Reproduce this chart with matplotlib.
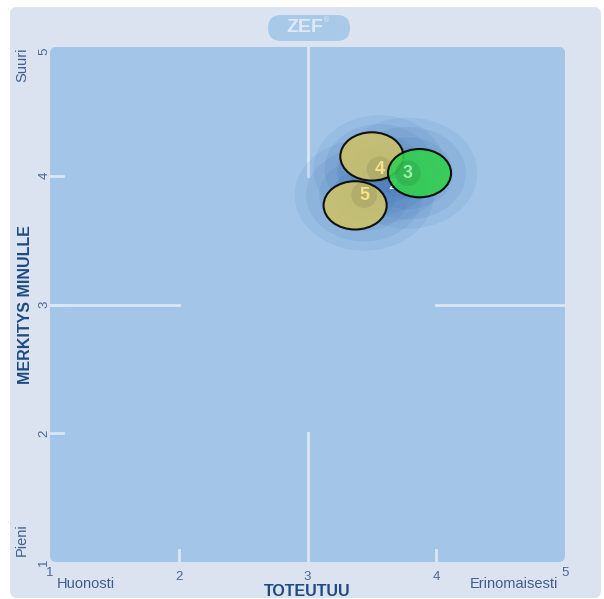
import matplotlib.pyplot as plt
from matplotlib.patches import Ellipse, FancyBboxPatch

plt.rcParams['font.family'] = ['Liberation Sans', 'DejaVu Sans']

# --- data ---
item_labels = ["5", "4", "3"]
# mean position of each item (where the number sits)
mean_x = [3.44, 3.56, 3.78]
mean_y = [3.85, 4.05, 4.02]
# bubble (ellipse) centre, pushed apart so they do not overlap
bubble_x = [3.37, 3.50, 3.87]
bubble_y = [3.77, 4.15, 4.02]
bubble_colors = ["#cdc26c", "#cdc26c", "#33d04f"]
text_colors = ["#f3e48c", "#f3e48c", "#9cf0a8"]
# spread of answers around each mean (width, height in scale units)
spread_w = [1.0, 0.95, 1.0]
spread_h = [0.80, 0.78, 0.80]
# hidden item under the bubbles
hidden_label = "2"
hidden_x, hidden_y = 3.66, 3.93

x_ticks = [1, 2, 3, 4, 5]
y_ticks = [1, 2, 3, 4, 5]
x_title = "TOTEUTUU"
y_title = "MERKITYS MINULLE"
x_low, x_high = "Huonosti", "Erinomaisesti"
y_low, y_high = "Pieni", "Suuri"

W, H = 604, 599
BG = "#dbe2f0"
AREA = "#a3c6e8"
LINE = "#dde6f3"
TICK = "#4a6793"
TITLE = "#1d4a82"

fig = plt.figure(figsize=(W / 100, H / 100), dpi=100)
fig.patch.set_facecolor("white")


def fx(px):
    return px / W


def fy(py):
    return 1 - py / H


# outer panel
fig.patches.append(FancyBboxPatch((fx(10), fy(598)), fx(591), 591 / H,
                                  boxstyle="round,pad=0,rounding_size=0.012",
                                  transform=fig.transFigure, facecolor=BG,
                                  edgecolor="none", zorder=-2))

# ZEF badge
fig.patches.append(FancyBboxPatch((fx(268), fy(41)), fx(82), 26 / H,
                                  boxstyle="round,pad=0,rounding_size=0.022",
                                  transform=fig.transFigure, facecolor="#a9c9e9",
                                  edgecolor="none", zorder=-1))
fig.text(fx(305), fy(28), "ZEF", ha="center", va="center", fontsize=14,
         fontweight="bold", color="#dfe8f5")
fig.text(fx(326), fy(21), "®", ha="center", va="center", fontsize=5,
         color="#dfe8f5")

ax = fig.add_axes([fx(50), fy(562), 515 / W, 515 / H])
ax.set_xlim(1, 5)
ax.set_ylim(1, 5)
ax.axis("off")

# plot area with slightly rounded corners
ax.add_patch(FancyBboxPatch((0, 0), 1, 1, boxstyle="round,pad=0,rounding_size=0.012",
                            transform=ax.transAxes, facecolor=AREA,
                            edgecolor="none", zorder=0, clip_on=False))

# white guide lines
ax.plot([3, 3], [4, 5], color=LINE, lw=2, zorder=1)
ax.plot([3, 3], [1, 2], color=LINE, lw=2, zorder=1)
ax.plot([1, 2], [3, 3], color=LINE, lw=2, zorder=1)
ax.plot([4, 5], [3, 3], color=LINE, lw=2, zorder=1)
for t in [2, 4]:
    ax.plot([t, t], [1, 1.09], color=LINE, lw=2, zorder=1)
for t in [2, 3, 4]:
    ax.plot([1, 1.1], [t, t], color=LINE, lw=2, zorder=1)

# answer spread clouds
for i in range(len(item_labels)):
    for scale, a in [(1.08, 0.10), (0.9, 0.12), (0.7, 0.12), (0.5, 0.12)]:
        ax.add_patch(Ellipse((mean_x[i], mean_y[i]), spread_w[i] * scale,
                             spread_h[i] * scale, facecolor="#3f73b6",
                             edgecolor="none", alpha=a, zorder=2))

ax.text(hidden_x, hidden_y, hidden_label, color="white", fontsize=11,
        ha="center", va="center", zorder=3)

# bubbles
for i in range(len(item_labels)):
    ax.add_patch(Ellipse((bubble_x[i], bubble_y[i]), 0.49, 0.375,
                         facecolor=bubble_colors[i], edgecolor="black",
                         lw=1.5, alpha=0.9, zorder=4 + i))
    ax.add_patch(Ellipse((mean_x[i], mean_y[i]), 0.2, 0.2,
                         facecolor="#000000", edgecolor="none",
                         alpha=0.08, zorder=4 + i))
    ax.text(mean_x[i], mean_y[i], item_labels[i], color=text_colors[i],
            fontsize=13, fontweight="bold", ha="center", va="center",
            zorder=4 + i)

# tick labels
for t in x_ticks:
    dy = 3 if t in (1, 5) else 0
    ax.annotate(str(t), xy=(t, 1), xytext=(0, -6.5 + dy), textcoords="offset points",
                ha="center", va="top", fontsize=9.5, color=TICK)
for t in y_ticks:
    ax.annotate(str(t), xy=(1, t), xytext=(-4, -3 if t == 5 else 0),
                textcoords="offset points", ha="center", va="center",
                rotation=90, fontsize=9.5, color=TICK)

fig.text(fx(57), fy(584), x_low, ha="left", va="center", fontsize=10.5, color="#3d5f8f")
fig.text(fx(558), fy(584), x_high, ha="right", va="center", fontsize=10.5, color="#3d5f8f")
fig.text(fx(307), fy(592), x_title, ha="center", va="center", fontsize=11.5,
         fontweight="bold", color=TITLE)
fig.text(fx(22), fy(47), y_high, ha="center", va="top", rotation=90, fontsize=10.5,
         color="#3d5f8f")
fig.text(fx(22), fy(556), y_low, ha="center", va="bottom", rotation=90, fontsize=10.5,
         color="#3d5f8f")
fig.text(fx(25), fy(305), y_title, ha="center", va="center", rotation=90,
         fontsize=11.5, fontweight="bold", color=TITLE)

fig.savefig("out.png", dpi=100)
